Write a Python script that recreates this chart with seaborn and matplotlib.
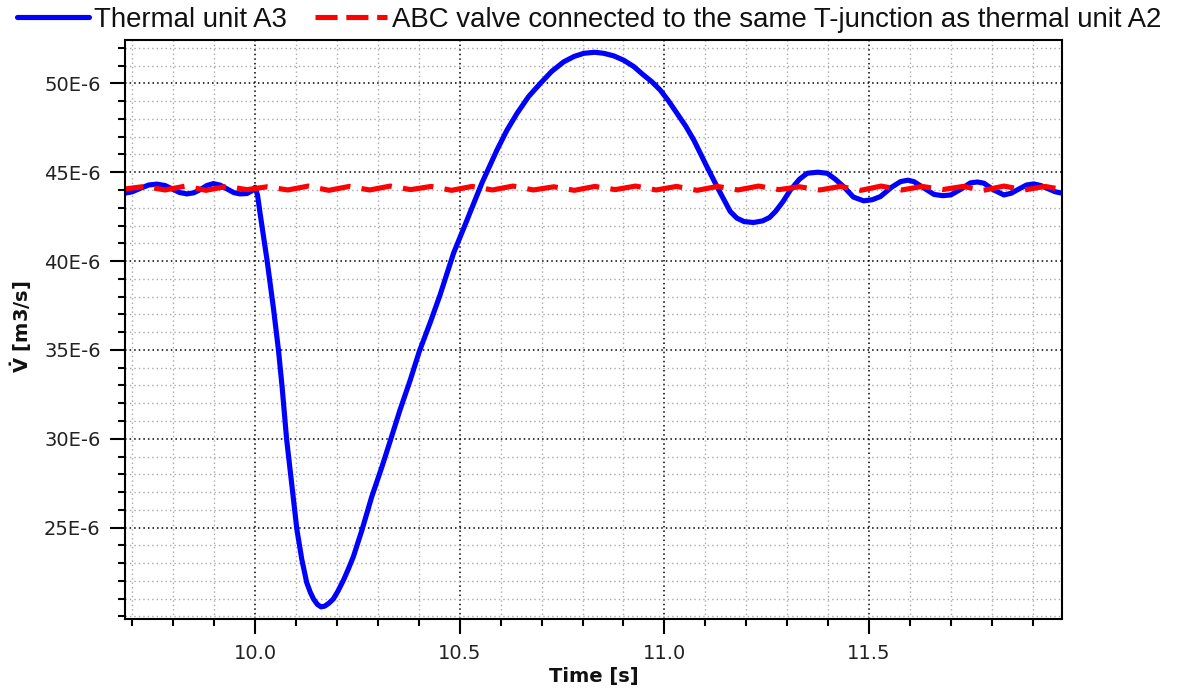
import matplotlib
matplotlib.use("Agg")
import matplotlib.pyplot as plt
import seaborn as sns
from matplotlib.lines import Line2D
from matplotlib.ticker import FixedLocator, MultipleLocator, FuncFormatter
from matplotlib import font_manager

# ---------------- data (flow in units of 1E-6 m3/s) ----------------
blue_time = [9.682, 9.700, 9.720, 9.740, 9.760, 9.780, 9.800, 9.815, 9.833, 9.850,
             9.866, 9.882, 9.898, 9.915, 9.932, 9.948, 9.963, 9.980, 9.992, 10.000,
             10.006, 10.012, 10.029, 10.045, 10.057, 10.066, 10.077, 10.090, 10.102, 10.114,
             10.126, 10.135, 10.143, 10.152, 10.161, 10.170, 10.180, 10.191, 10.203, 10.216,
             10.228, 10.240, 10.261, 10.285, 10.310, 10.330, 10.354, 10.379, 10.401, 10.428,
             10.452, 10.485, 10.518, 10.554, 10.591, 10.615, 10.640, 10.668, 10.697, 10.725,
             10.754, 10.780, 10.803, 10.830, 10.852, 10.876, 10.900, 10.925, 10.949, 10.970,
             10.990, 11.010, 11.031, 11.052, 11.072, 11.104, 11.133, 11.161, 11.177, 11.195,
             11.218, 11.240, 11.257, 11.272, 11.290, 11.308, 11.330, 11.349, 11.375, 11.398,
             11.418, 11.438, 11.462, 11.487, 11.508, 11.528, 11.555, 11.577, 11.595, 11.610,
             11.635, 11.659, 11.680, 11.700, 11.725, 11.748, 11.765, 11.781, 11.805, 11.830,
             11.848, 11.862, 11.885, 11.903, 11.920, 11.935, 11.955, 11.972]
blue_flow = [43.82, 43.90, 44.10, 44.28, 44.33, 44.25, 44.03, 43.86, 43.78, 43.84,
             44.02, 44.25, 44.36, 44.27, 44.05, 43.85, 43.78, 43.80, 43.95, 44.15,
             43.70, 42.70, 40.07, 37.30, 35.00, 32.90, 29.96, 27.34, 24.90, 23.22,
             21.91, 21.35, 20.97, 20.68, 20.54, 20.58, 20.74, 20.98, 21.45, 22.05,
             22.68, 23.36, 24.86, 26.74, 28.43, 29.87, 31.62, 33.30, 34.90, 36.55,
             38.10, 40.45, 42.32, 44.38, 46.25, 47.35, 48.31, 49.25, 50.00, 50.68,
             51.21, 51.52, 51.69, 51.75, 51.69, 51.55, 51.31, 50.95, 50.47, 50.08,
             49.62, 49.02, 48.31, 47.60, 46.81, 45.31, 44.00, 42.79, 42.42, 42.22,
             42.17, 42.26, 42.45, 42.80, 43.35, 44.00, 44.60, 44.94, 45.00, 44.94,
             44.60, 44.19, 43.60, 43.39, 43.45, 43.63, 44.15, 44.47, 44.55, 44.47,
             44.10, 43.75, 43.68, 43.72, 44.05, 44.40, 44.45, 44.38, 44.00, 43.72,
             43.82, 44.00, 44.28, 44.34, 44.25, 44.10, 43.90, 43.82]

red_time = [9.68, 9.73, 9.78, 9.83, 9.88, 9.93, 9.98, 10.03, 10.08, 10.13,
            10.18, 10.23, 10.28, 10.33, 10.38, 10.43, 10.48, 10.53, 10.58, 10.63,
            10.68, 10.73, 10.78, 10.83, 10.88, 10.93, 10.98, 11.03, 11.08, 11.13,
            11.18, 11.23, 11.28, 11.33, 11.38, 11.43, 11.48, 11.53, 11.58, 11.63,
            11.68, 11.73, 11.78, 11.83, 11.88, 11.93, 11.98]
red_flow = [44.05, 44.20, 44.00, 44.22, 43.98, 44.20, 44.02, 44.18, 44.00, 44.22,
            43.98, 44.20, 44.00, 44.22, 44.02, 44.20, 43.98, 44.20, 44.00, 44.22,
            44.00, 44.18, 43.98, 44.20, 44.02, 44.22, 44.00, 44.20, 43.98, 44.20,
            44.00, 44.22, 44.02, 44.18, 44.00, 44.20, 43.98, 44.22, 44.00, 44.20,
            44.02, 44.20, 43.98, 44.22, 44.00, 44.20, 44.00]

series_labels = ["Thermal unit A3",
                 "ABC valve connected to the same T-junction as thermal unit A2"]
x_major_ticks = [10.0, 10.5, 11.0, 11.5]
y_major_ticks = [25, 30, 35, 40, 45, 50]
x_label = "Time [s]"
y_label = r"$\mathbf{\dot{V}}$ [m3/s]"

# ---------------- style ----------------
sns.set_theme(style="white")
plt.rcParams['font.family'] = ['DejaVu Sans']
plt.rcParams['mathtext.fontset'] = 'dejavusans'

names = {f.name for f in font_manager.fontManager.ttflist}
if 'Liberation Sans Narrow' in names:
    legend_font = dict(family=['Liberation Sans Narrow', 'DejaVu Sans'], size=24.5)
else:
    legend_font = dict(family=['Liberation Sans', 'DejaVu Sans'], size=19.9)

BLUE = '#0000ff'
RED = '#ff0000'
LW = 3.7

fig = plt.figure(figsize=(11.8, 6.95), dpi=100)
ax = fig.add_axes([0.10593, 0.10892, 0.79381, 0.83353])

sns.lineplot(x=blue_time, y=blue_flow, ax=ax, color=BLUE, linewidth=LW,
             estimator=None, sort=False, solid_joinstyle='round')
sns.lineplot(x=red_time, y=red_flow, ax=ax, color=RED, linewidth=LW,
             estimator=None, sort=False, linestyle=(2.3, (6.0, 2.2)))

ax.set_xlim(9.682, 11.971)
ax.set_ylim(19.84, 52.44)

ax.xaxis.set_major_locator(FixedLocator(x_major_ticks))
ax.xaxis.set_minor_locator(MultipleLocator(0.1))
ax.yaxis.set_major_locator(FixedLocator(y_major_ticks))
ax.yaxis.set_minor_locator(MultipleLocator(1))
ax.xaxis.set_major_formatter(FuncFormatter(lambda v, _: f"{v:.1f}"))
ax.yaxis.set_major_formatter(FuncFormatter(lambda v, _: f"{v:.0f}E-6"))

ax.set_axisbelow(True)
ax.grid(which='minor', color='#a9a9a9', linestyle=(0, (1, 2.2)), linewidth=1.0)
ax.grid(which='major', color='#000000', linestyle=(0, (1, 2)), linewidth=1.1)

ax.tick_params(which='major', direction='out', length=10.5, width=1.5,
               color='black', labelsize=14, pad=7, labelcolor='#222222',
               bottom=True, left=True, top=False, right=False)
ax.tick_params(which='minor', direction='out', length=5, width=1.5,
               color='black', bottom=True, left=True, top=False, right=False)

for sp in ax.spines.values():
    sp.set_visible(True)
    sp.set_color('black')
    sp.set_linewidth(1.5)

ax.set_xlabel(x_label, fontsize=14, fontweight='bold', color='#111111')
ax.set_ylabel(y_label, fontsize=14, fontweight='bold', color='#111111')
ax.xaxis.set_label_coords(0.5, -0.082)
ax.yaxis.set_label_coords(-0.097, 0.506)

handles = [Line2D([0], [0], color=BLUE, linewidth=LW),
           Line2D([0], [0], color=RED, linewidth=LW, linestyle=(0, (4.3, 1.7)))]
fig.legend(handles, series_labels, loc='upper left',
           bbox_to_anchor=(17 / 1180, 1 - 7 / 695), ncol=2, frameon=False,
           prop=legend_font, handlelength=2.6, handletextpad=0.2,
           columnspacing=1.0, borderpad=0, borderaxespad=0, labelcolor='#111111')

fig.savefig("out.png", dpi=100)
